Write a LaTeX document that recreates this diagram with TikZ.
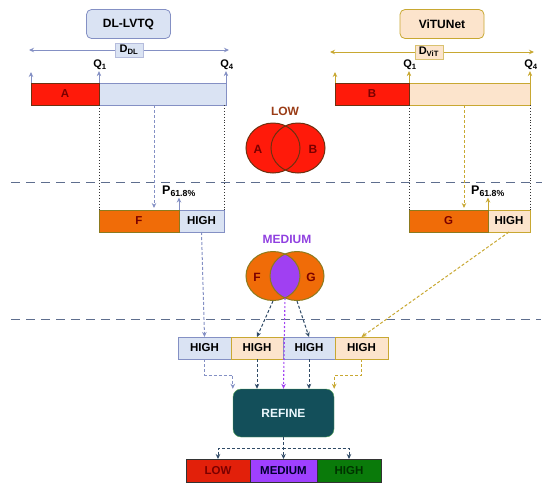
\documentclass[tikz,border=0pt]{standalone}
\usepackage{fontspec}
\setmainfont{Liberation Sans}
\usepackage{tikz}
\usetikzlibrary{arrows.meta,positioning,shapes.geometric}
\definecolor{dlfill}{HTML}{DAE3F3}
\definecolor{dlline}{HTML}{8490C4}
\definecolor{vitfill}{HTML}{FCE4CC}
\definecolor{vitline}{HTML}{C8A832}
\definecolor{lowred}{HTML}{FF1A0A}
\definecolor{redline}{HTML}{6E3010}
\definecolor{darkred}{HTML}{7A0000}
\definecolor{medorange}{HTML}{F06C08}
\definecolor{oliveline}{HTML}{8C7A1E}
\definecolor{medpurple}{HTML}{A040F2}
\definecolor{medlabel}{HTML}{9040E0}
\definecolor{lowlabel}{HTML}{9A3C16}
\definecolor{refteal}{HTML}{134F5A}
\definecolor{slate}{HTML}{2F4A66}
\definecolor{sepline}{HTML}{5E6E8E}
\definecolor{outred}{HTML}{E2200A}
\definecolor{outpurple}{HTML}{9F40FF}
\definecolor{outgreen}{HTML}{0A7A0A}
\tikzset{
  >={Stealth[length=5pt,width=4.5pt]},
  model/.style={draw, line width=0.8pt, rounded corners=5pt, minimum width=84pt, minimum height=29pt, font=\bfseries\fontsize{12}{14}\selectfont},
  seg/.style={draw, line width=1pt, inner sep=0pt, outer sep=0pt, minimum height=22pt, font=\bfseries\fontsize{11.5}{13}\selectfont},
  dtag/.style={draw, line width=0.6pt, inner sep=1.5pt, minimum width=28pt, minimum height=14pt, text=black, font=\bfseries\fontsize{11}{12}\selectfont},
  qlab/.style={inner sep=1pt, font=\bfseries\fontsize{11}{12}\selectfont},
  vring/.style={draw, ellipse, line width=1pt, inner sep=0pt, minimum width=54pt, minimum height=50pt},
  vlet/.style={text=darkred, font=\bfseries\fontsize{12}{14}\selectfont},
  guide/.style={dotted, line width=0.9pt, draw=black!80},
  divider/.style={line width=1pt, draw=sepline, dash pattern=on 9pt off 6pt},
  flow/.style={->, line width=1pt, dash pattern=on 3pt off 2pt},
  uparr/.style={->, line width=0.9pt},
}
\begin{document}
\begin{tikzpicture}[x=1pt, y=-1pt]
  \useasboundingbox (0,0) rectangle (550,491);

  \draw[divider] (11,182) -- (542,182);
  \draw[divider] (11,319) -- (541,319);

  \node[model, fill=dlfill, draw=dlline] (dl) at (128.5,24) {DL-LVTQ};
  \coordinate (ddl1) at (29,50);
  \coordinate (ddl2) at (229,50);
  \draw[<->, line width=0.9pt, dlline] (ddl1) -- node[dtag, fill=dlfill, draw=dlline!60] (ddl) {D\textsubscript{DL}} (ddl2);
  \node[seg, fill=dlfill, draw=dlline, minimum width=127pt, anchor=north west] (arest) at (99,83) {};
  \node[seg, fill=lowred, draw=redline, text=darkred, minimum width=68pt, left=0pt of arest] (a) {A};
  \node[qlab] (q1a) at (100,65) {Q\textsubscript{1}};
  \node[qlab] (q4a) at (227,65) {Q\textsubscript{4}};
  \coordinate (a0) at (31,72);
  \draw[uparr, dlline] (a.north west) -- (a0);
  \draw[uparr, dlline] (a.north east) -- (a.north east |- q1a.south);
  \draw[uparr, dlline] (arest.north east) -- (arest.north east |- q4a.south);

  \node[seg, fill=dlfill, draw=dlline, minimum width=45pt, anchor=north west] (hf) at (179,210) {HIGH};
  \node[seg, fill=medorange, draw=oliveline, text=darkred, minimum width=80pt, left=0pt of hf] (f) {F};
  \node[qlab, font=\bfseries\fontsize{12.5}{14}\selectfont] (pf) at (179,191) {P\textsubscript{61.8\%}};
  \draw[guide] (a.south east) -- (f.north west);
  \draw[guide] (hf.north east |- arest.south) -- (hf.north east);
  \draw[flow, dlline, shorten >=2pt] ([xshift=55pt]arest.south west) -- ([xshift=55pt]f.north west);
  \draw[uparr, dlline] (f.north east) -- (pf.south);

  \node[model, fill=vitfill, draw=vitline] (vit) at (442,24) {ViTUNet};
  \coordinate (dvit1) at (330,52);
  \coordinate (dvit2) at (534,52);
  \draw[<->, line width=0.9pt, vitline] (dvit1) -- node[dtag, pos=0.485, fill=vitfill, draw=vitline!70] (dvit) {D\textsubscript{ViT}} (dvit2);
  \node[seg, fill=vitfill, draw=vitline, minimum width=121pt, anchor=north west] (brest) at (409,83) {};
  \node[seg, fill=lowred, draw=redline, text=darkred, minimum width=74pt, left=0pt of brest] (b) {B};
  \node[qlab] (q1b) at (410,65) {Q\textsubscript{1}};
  \node[qlab] (q4b) at (531,65) {Q\textsubscript{4}};
  \coordinate (b0) at (335,72);
  \draw[uparr, vitline] (b.north west) -- (b0);
  \draw[uparr, vitline] (b.north east) -- (b.north east |- q1b.south);
  \draw[uparr, vitline] (brest.north east) -- (brest.north east |- q4b.south);

  \node[seg, fill=vitfill, draw=vitline, minimum width=42pt, anchor=north west] (hg) at (488,210) {HIGH};
  \node[seg, fill=medorange, draw=oliveline, text=darkred, minimum width=79pt, left=0pt of hg] (g) {G};
  \node[qlab, font=\bfseries\fontsize{12.5}{14}\selectfont] (pg) at (488,191) {P\textsubscript{61.8\%}};
  \draw[guide] (b.south east) -- (g.north west);
  \draw[guide] (hg.north east |- brest.south) -- (hg.north east);
  \draw[flow, vitline, shorten >=2pt] ([xshift=55pt]brest.south west) -- ([xshift=55pt]g.north west);
  \draw[uparr, vitline] (g.north east) -- (pg.south);

  \node[font=\bfseries\fontsize{12}{14}\selectfont, text=lowlabel] (lowlab) at (285,111) {LOW};
  \fill[lowred] (273,148) ellipse [x radius=27pt, y radius=25pt] (298,148) ellipse [x radius=27pt, y radius=25pt];
  \node[vring, draw=redline] (lowa) at (273,148) {};
  \node[vring, draw=redline] (lowb) at (298,148) {};
  \node[vlet] (la) at (258,149) {A};
  \node[vlet] (lb) at (313,149) {B};

  \node[font=\bfseries\fontsize{12}{14}\selectfont, text=medlabel] (medlab) at (287,239) {MEDIUM};
  \fill[medorange] (273,276) ellipse [x radius=27pt, y radius=24.5pt] (297,276) ellipse [x radius=27pt, y radius=24.5pt];
  \begin{scope}
    \clip (273,276) ellipse [x radius=27pt, y radius=24.5pt];
    \fill[medpurple] (297,276) ellipse [x radius=27pt, y radius=24.5pt];
  \end{scope}
  \node[vring, draw=oliveline, minimum height=49pt] (medf) at (273,276) {};
  \node[vring, draw=oliveline, minimum height=49pt] (medg) at (297,276) {};
  \node[vlet] (lf) at (257,277) {F};
  \node[vlet] (lg) at (311,277) {G};
  \coordinate (mm) at (285,298);

  \node[seg, fill=dlfill, draw=dlline, minimum width=53pt, anchor=north west] (h1) at (178,337) {HIGH};
  \node[seg, fill=vitfill, draw=vitline, minimum width=52pt, right=0pt of h1] (h2) {HIGH};
  \node[seg, fill=dlfill, draw=dlline, minimum width=52pt, right=0pt of h2] (h3) {HIGH};
  \node[seg, fill=vitfill, draw=vitline, minimum width=53pt, right=0pt of h3] (h4) {HIGH};

  \node[draw=green!30!gray, fill=refteal, rounded corners=8pt, minimum width=101pt, minimum height=48pt,
        text=cyan!8, font=\bfseries\fontsize{12}{14}\selectfont] (refine) at (283.5,413) {REFINE};

  \draw[flow, dlline] (hf.south) -- (h1.north);
  \draw[flow, vitline] (hg.south) -- (h4.north);
  \draw[flow, slate] (medf.south) -- (h2.north);
  \draw[flow, slate] (medg.south) -- (h3.north);
  \draw[flow, dlline] (h1.south) -- ++(0,16) -| (refine.north west);
  \draw[flow, slate] (h2.south) -- (h2.south |- refine.north);
  \draw[flow, slate] (h3.south) -- (h3.south |- refine.north);
  \draw[flow, vitline] (h4.south) -- ++(0,16) -| (refine.north east);
  \draw[flow, medpurple, line width=1.1pt, dash pattern=on 2pt off 2pt] (mm) -- (refine.north);

  \node[seg, fill=outpurple, draw=black!80, text=black!70!blue!60!black, minimum width=67pt, minimum height=23pt] (outmed) at (283.5,470.5) {MEDIUM};
  \node[seg, fill=outred, draw=black!80, text=darkred, minimum width=64pt, minimum height=23pt, left=0pt of outmed] (outlow) {LOW};
  \node[seg, fill=outgreen, draw=black!80, text=black!80!green, minimum width=64pt, minimum height=23pt, right=0pt of outmed] (outhigh) {HIGH};
  \draw[flow, slate] (refine.south) -- (outmed.north);
  \draw[flow, slate] (refine.south) -- ++(0,11) -| (outlow.north);
  \draw[flow, slate] (refine.south) -- ++(0,11) -| (outhigh.north);
\end{tikzpicture}
\end{document}
